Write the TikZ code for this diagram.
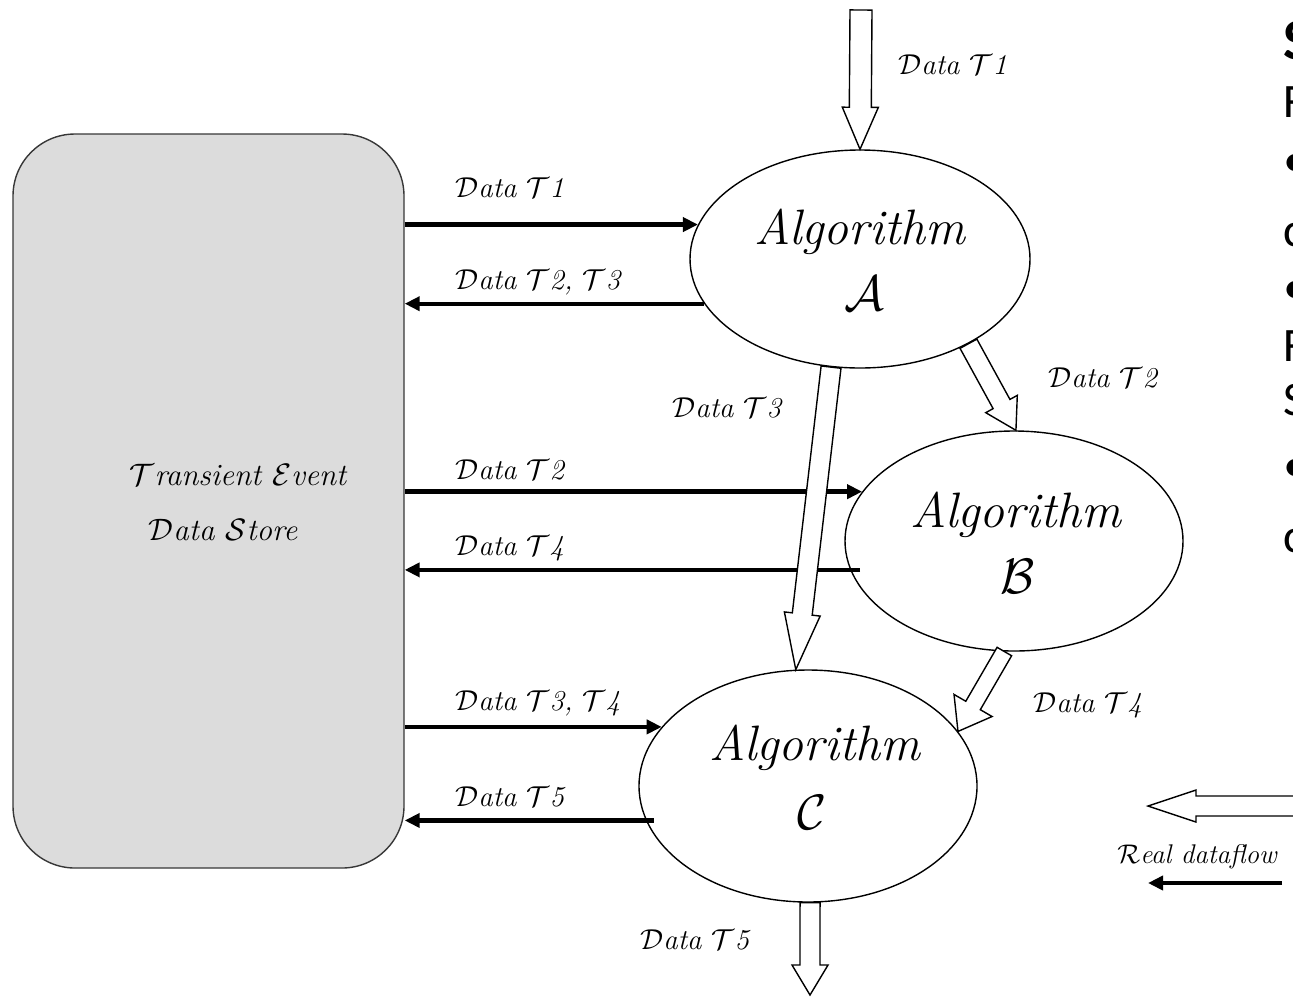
\RequirePackage{fix-cm}
\documentclass[tikz,border=0pt]{standalone}
\usepackage{fontspec}
\newfontfamily\slidefont{Carlito}
\usetikzlibrary{shapes.geometric,arrows.meta,calc}
\definecolor{storegrey}{RGB}{220,220,220}
\definecolor{storeline}{RGB}{55,55,55}
% swash capitals for the labels
\newcommand\sw[1]{\ensuremath{\mathcal{#1}}}
% hollow block arrow: name, start, tip, shaft half width, head half width, head length
\newcommand\blockarrow[6]{%
  \coordinate (#1-h) at ($(#3)!#6!(#2)$);
  \draw[hollow] ($(#2)!#4!90:(#3)$) -- ($(#1-h)!#4!90:(#3)$) -- ($(#1-h)!#5!90:(#3)$)
    -- (#3) -- ($(#1-h)!#5!-90:(#3)$) -- ($(#1-h)!#4!-90:(#3)$) -- ($(#2)!#4!-90:(#3)$) -- cycle;}
\tikzset{
  lbl/.style={font=\fontsize{14.4}{16}\selectfont\itshape, inner sep=0pt, anchor=west},
  algtext/.style={font=\fontsize{24.88}{28}\selectfont\itshape, inner sep=0pt},
  storetext/.style={font=\fontsize{15.5}{18}\selectfont\itshape, inner sep=0pt},
  proc/.style={ellipse, draw, line width=0.7pt, fill=white, inner sep=0pt},
  flow/.style={line width=2.2pt, -{Triangle[length=7.5pt,width=7pt]}},
  hollow/.style={draw, fill=white, line width=0.7pt, line join=miter},
  sidetext/.style={anchor=base west, inner sep=0pt, font=\slidefont\fontsize{24}{26}\selectfont},
}
\begin{document}
\begin{tikzpicture}[x=0.5pt,y=-0.5pt]
\useasboundingbox (0,0) rectangle (1293,997);
\clip (0,0) rectangle (1293,997);

% event store
\node[draw=storeline, fill=storegrey, line width=0.7pt, rounded corners=31pt,
      minimum width=195.5pt, minimum height=367pt, inner sep=0pt] (store) at (208.5,501) {};
\node[storetext] (st1) at (238,475) {\sw{T}ransient \sw{E}vent};
\node[storetext] (st2) at (223,530) {\sw{D}ata \sw{S}tore};

% algorithms
\node[proc, minimum width=170pt, minimum height=109pt] (A) at (860,259) {};
\node[proc, minimum width=169pt, minimum height=110pt] (B) at (1014,541) {};
\node[proc, minimum width=169pt, minimum height=116pt] (C) at (808,786) {};

% data exchanged with the store
\draw[flow] (store.east |- A.168.86) -- (A.168.86);
\draw[flow] (A.196.6) -- (store.east |- A.196.6);
\draw[flow] (store.east |- B.162.06) -- (B.162.06);
\draw[flow] ([xshift=5pt]B.190.1) -- (store.east |- B.190.1);
\draw[flow] (store.east |- C.158.4) -- (C.158.4);
\draw[flow] ([xshift=4pt]C.192.6) -- (store.east |- C.192.6);

% direct data flow between algorithms
\coordinate (inT1) at (861,10);
\coordinate (outT5) at (810,995);
\blockarrow{t1}{inT1}{A.north}{5.5pt}{9pt}{21pt}
\blockarrow{t3}{A.255}{C.96}{5pt}{9pt}{28pt}
\blockarrow{t2}{A.-38}{B.89}{4.8pt}{9pt}{15pt}
\blockarrow{t4}{B.265}{C.20.7}{4.2pt}{11pt}{15pt}
\blockarrow{t5}{C.-89}{outT5}{5pt}{9pt}{15pt}

% legend
\coordinate (lgA) at (1310,806);
\coordinate (lgB) at (1148,806);
\coordinate (lgC) at (1282,883);
\coordinate (lgD) at (1148,883);
\blockarrow{lg}{lgA}{lgB}{5pt}{8pt}{24pt}
\draw[flow] (lgC) -- (lgD);
\node[lbl, font=\fontsize{13.5}{15}\selectfont\itshape] (lgtext) at (1117,857) {\sw{R}eal dataflow};

% algorithm names
\node[algtext] (An) at (860,232) {Algorithm};
\node[algtext] (Al) at (864,293) {\sw{A}};
\node[algtext] (Bn) at (1016,515) {Algorithm};
\node[algtext] (Bl) at (1018,576) {\sw{B}};
\node[algtext] (Cn) at (815,748) {Algorithm};
\node[algtext] (Cl) at (812,812) {\sw{C}};

% labels
\node[lbl] (l1) at (455,188) {\sw{D}ata \sw{T}1};
\node[lbl] (l2) at (455,282) {\sw{D}ata \sw{T}2, \sw{T}3};
\node[lbl] (l3) at (455,470) {\sw{D}ata \sw{T}2};
\node[lbl] (l4) at (455,548) {\sw{D}ata \sw{T}4};
\node[lbl] (l5) at (455,703) {\sw{D}ata \sw{T}3, \sw{T}4};
\node[lbl] (l6) at (455,797) {\sw{D}ata \sw{T}5};
\node[lbl] (l7) at (898,65) {\sw{D}ata \sw{T}1};
\node[lbl] (l8) at (672,408) {\sw{D}ata \sw{T}3};
\node[lbl] (l9) at (1048,378) {\sw{D}ata \sw{T}2};
\node[lbl] (l10) at (1033,705) {\sw{D}ata \sw{T}4};
\node[lbl] (l11) at (640,940) {\sw{D}ata \sw{T}5};

% text running off the right edge
\node[sidetext, font=\slidefont\fontsize{29}{30}\selectfont\bfseries] (r1) at (1283,59) {S};
\node[sidetext] (r2) at (1283,117) {F};
\node[sidetext] (r3) at (1283,176) {•};
\node[sidetext] (r4) at (1283,246) {c};
\node[sidetext] (r5) at (1283,303) {•};
\node[sidetext] (r6) at (1283,361) {F};
\node[sidetext] (r7) at (1283,415) {S};
\node[sidetext] (r8) at (1283,481) {•};
\node[sidetext] (r9) at (1283,552) {c};
\end{tikzpicture}
\end{document}
